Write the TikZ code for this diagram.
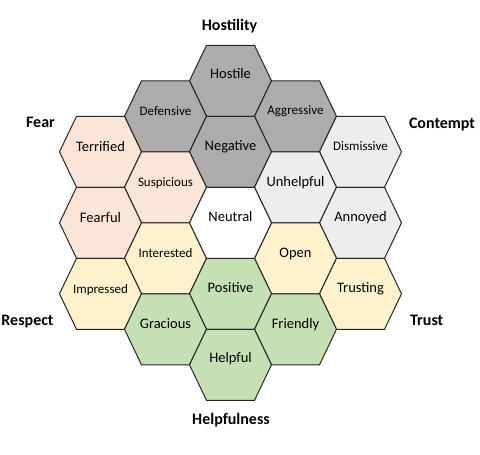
\documentclass[tikz,border=0pt]{standalone}
\usepackage{fontspec}
\setmainfont{Carlito}
\definecolor{hgray}{HTML}{AEABAB}
\definecolor{hlight}{HTML}{EDEDED}
\definecolor{hpeach}{HTML}{FBE5D6}
\definecolor{hyellow}{HTML}{FFF2CC}
\definecolor{hgreen}{HTML}{C5E0B4}
\definecolor{hline}{HTML}{262626}
% one cell of the honeycomb, centred at (#2,#3)
\newcommand{\hexcell}[3]{\filldraw[line width=1pt,draw=hline,fill=#1] (#2,#3) +(-41,0) -- +(-24,-35.5) -- +(24,-35.5) -- +(41,0) -- +(24,35.5) -- +(-24,35.5) -- cycle;}

\begin{document}
\begin{tikzpicture}[x=1pt,y=-1pt,
  big/.style ={anchor=base,inner sep=0pt,font=\fontsize{14.5}{17}\selectfont},
  small/.style ={anchor=base,inner sep=0pt,font=\fontsize{13}{15}\selectfont},
  axis/.style ={anchor=base,inner sep=0pt,font=\fontsize{16}{19}\selectfont\bfseries}]

\useasboundingbox (0,0) rectangle (480,455);

%hostility
\hexcell{hgray}{230.5}{80.8}
\hexcell{hgray}{165.5}{116.3}
\hexcell{hgray}{295.5}{116.3}
\hexcell{hgray}{230.5}{151.8}

%fear
\hexcell{hpeach}{100.5}{151.8}
\hexcell{hpeach}{165.5}{187.3}
\hexcell{hpeach}{100.5}{222.8}

%contempt
\hexcell{hlight}{360.5}{151.8}
\hexcell{hlight}{295.5}{187.3}
\hexcell{hlight}{360.5}{222.8}

%respect and trust
\hexcell{hyellow}{165.5}{258.3}
\hexcell{hyellow}{100.5}{293.8}
\hexcell{hyellow}{295.5}{258.3}
\hexcell{hyellow}{360.5}{293.8}

%helpfulness
\hexcell{hgreen}{230.5}{293.8}
\hexcell{hgreen}{165.5}{329.3}
\hexcell{hgreen}{295.5}{329.3}
\hexcell{hgreen}{230.5}{364.8}

\hexcell{white}{230.5}{222.8}

\node[big] (hostile) at (230.5,78.8) {Hostile};
\node[small] (defensive) at (165.5,115.3) {Defensive};
\node[small] (aggressive) at (295.5,114.3) {Aggressive};
\node[big] (negative) at (230.5,150.3) {Negative};
\node[big] (terrified) at (100.5,151.3) {Terrified};
\node[small] (suspicious) at (165.5,186.3) {Suspicious};
\node[big] (fearful) at (100.5,222.3) {Fearful};
\node[small] (dismissive) at (360.5,150.8) {Dismissive};
\node[big] (unhelpful) at (295.5,186.3) {Unhelpful};
\node[big] (annoyed) at (360.5,221.3) {Annoyed};
\node[big] (neutral) at (230.5,221.3) {Neutral};
\node[small] (interested) at (165.5,257.3) {Interested};
\node[big] (open) at (295.5,257.3) {Open};
\node[small] (impressed) at (100.5,293.3) {Impressed};
\node[big] (trusting) at (360.5,292.3) {Trusting};
\node[big] (positive) at (230.5,292.3) {Positive};
\node[big] (gracious) at (165.5,328.3) {Gracious};
\node[big] (friendly) at (295.5,328.3) {Friendly};
\node[big] (helpful) at (230.5,362.8) {Helpful};

\node[axis] (hostility) at (229.5,30.7) {Hostility};
\node[axis] (fear) at (40.5,127.3) {Fear};
\node[axis] (contempt) at (442,128.3) {Contempt};
\node[axis] (respect) at (27.5,325.7) {Respect};
\node[axis] (trust) at (426.7,325) {Trust};
\node[axis] (helpfulness) at (231,424) {Helpfulness};
\end{tikzpicture}
\end{document}
